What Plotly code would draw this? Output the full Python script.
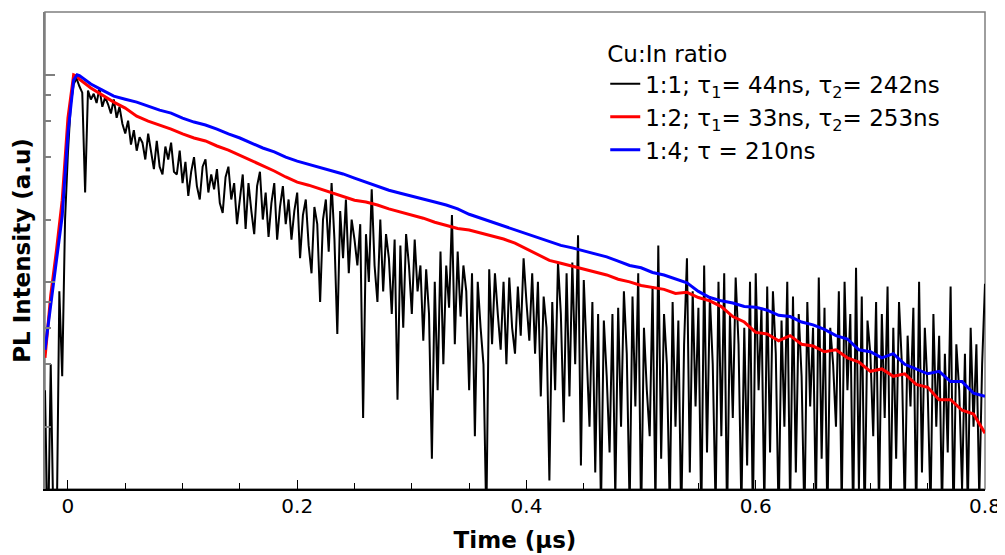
import plotly.graph_objects as go

# ---- data ----
# Cu:In 1:1, noisy trace sampled every 2.5 ns starting at -0.02 us
t0_black = -0.02
dt_black = 0.0025
pl_black = [
    30, 5, 40, 6, 5, 90, 35, 200, 420, 720,
    900, 960, 880, 820, 270, 840, 760, 810, 730, 860,
    700, 780, 720, 650, 760, 620, 700, 580, 520, 600,
    460, 540, 430, 500, 470, 390, 520, 420, 350, 480,
    360, 330, 450, 390, 470, 340, 330, 430, 300, 380,
    260, 340, 400, 290, 250, 360, 390, 270, 330, 280,
    350, 240, 215, 320, 360, 250, 300, 190, 260, 330,
    180, 300, 220, 170, 290, 340, 200, 270, 165, 240,
    300, 160, 230, 290, 190, 250, 160, 220, 270, 130,
    210, 250, 150, 110, 230, 190, 80, 200, 250, 140,
    300, 160, 56, 220, 130, 250, 110, 200, 160, 120,
    190, 22, 170, 100, 280, 120, 80, 200, 90, 170,
    130, 70, 160, 27, 150, 60, 170, 120, 70, 160,
    90, 120, 52, 115, 70, 14, 100, 30, 140, 40,
    120, 75, 210, 50, 140, 68, 120, 90, 30, 110,
    18, 100, 60, 40, 7, 115, 50, 110, 70, 47,
    100, 40, 105, 60, 45, 95, 55, 130, 80, 52,
    110, 45, 100, 28, 85, 60, 11, 80, 30, 124,
    70, 21, 110, 28, 124, 40, 168, 13, 102, 45,
    20, 80, 12, 70, 8, 65, 35, 15, 70, 9,
    75, 20, 90, 45, 8, 85, 25, 110, 7, 60,
    30, 18, 95, 8, 150, 14, 70, 40, 8, 80,
    20, 65, 7, 50, 130, 12, 90, 25, 75, 7,
    120, 15, 85, 40, 8, 100, 18, 110, 7, 70,
    22, 105, 50, 8, 60, 13, 100, 7, 110, 30,
    75, 8, 95, 15, 90, 45, 7, 65, 20, 100,
    8, 85, 12, 70, 35, 7, 80, 25, 60, 8,
    105, 14, 75, 7, 60, 40, 20, 90, 8, 100,
    30, 70, 7, 117, 10, 85, 7, 65, 45, 18,
    80, 8, 70, 22, 95, 7, 60, 14, 80, 40,
    8, 55, 25, 75, 7, 100, 12, 60, 30, 8,
    70, 20, 55, 8, 45, 15, 95, 7, 50, 30,
    10, 45, 8, 60, 20, 50, 9, 40, 98,
]

# Cu:In 1:2 and 1:4 traces
t_curve = [
    -0.02, -0.015, -0.01, -0.005, 0.0, 0.005, 0.008,
    0.01, 0.02, 0.03, 0.04, 0.05, 0.06, 0.07, 0.08, 0.09, 0.10,
    0.11, 0.12, 0.13, 0.14, 0.15, 0.16, 0.17, 0.18, 0.19, 0.20,
    0.21, 0.22, 0.23, 0.24, 0.25, 0.26, 0.27, 0.28, 0.29, 0.30,
    0.31, 0.32, 0.33, 0.34, 0.35, 0.36, 0.37, 0.38, 0.39, 0.40,
    0.41, 0.42, 0.43, 0.44, 0.45, 0.46, 0.47, 0.48, 0.49, 0.50,
    0.51, 0.52, 0.53, 0.54, 0.55, 0.56, 0.57, 0.58, 0.59, 0.60,
    0.61, 0.62, 0.63, 0.64, 0.65, 0.66, 0.67, 0.68, 0.69, 0.70,
    0.71, 0.72, 0.73, 0.74, 0.75, 0.76, 0.77, 0.78, 0.79, 0.80,
]
pl_red = [
    43, 86, 142, 248, 617, 1000, 985,
    953, 863, 798, 738, 690, 631, 597, 572, 547, 518,
    495, 479, 453, 433, 409, 387, 366, 343, 321, 303,
    293, 281, 268, 257, 248, 243, 235, 225, 217, 210,
    203, 194, 188, 181, 178, 172, 166, 161, 154, 144,
    135, 127, 123, 119, 115, 111, 108, 103, 100, 96,
    94, 92, 88, 89, 84, 81, 76, 68, 64, 57,
    56, 52, 55, 50, 49, 46, 47, 43, 41, 37,
    38, 35, 36, 32, 31, 27, 27, 24, 23, 18.6,
]
pl_blue = [
    47, 80, 127, 208, 522, 942, 1000,
    990, 902, 843, 789, 762, 738, 706, 675, 653, 618,
    591, 572, 547, 518, 495, 468, 443, 424, 400, 383,
    370, 358, 343, 332, 317, 303, 290, 277, 268, 260,
    251, 243, 235, 225, 212, 203, 194, 186, 178, 170,
    163, 157, 150, 146, 141, 136, 132, 126, 120, 117,
    111, 108, 103, 99, 90, 84, 81, 79, 76, 75.5,
    73, 69, 68, 64, 62, 59, 55, 53, 47, 46,
    43, 45, 40, 38, 36, 37, 33, 33, 29, 28,
]

names = [
    "1:1; \u03c4<sub>1</sub>= 44ns, \u03c4<sub>2</sub>= 242ns",
    "1:2; \u03c4<sub>1</sub>= 33ns, \u03c4<sub>2</sub>= 253ns",
    "1:4; \u03c4 = 210ns",
]

FONT = "DejaVu Sans"

fig = go.Figure()
fig.add_trace(go.Scatter(
    y=pl_black, x0=t0_black, dx=dt_black, mode="lines",
    line=dict(color="black", width=2), name=names[0],
))
fig.add_trace(go.Scatter(
    x=t_curve, y=pl_red, mode="lines",
    line=dict(color="#ff0000", width=3), name=names[1],
))
fig.add_trace(go.Scatter(
    x=t_curve, y=pl_blue, mode="lines",
    line=dict(color="#0000ff", width=3), name=names[2],
))

# grey frame on top/right
fig.add_shape(type="rect", xref="paper", yref="paper", x0=0, y0=0, x1=1, y1=1,
              line=dict(color="#7f7f7f", width=1.5), layer="below")

# the page body has an 8px margin, so the figure is a bit smaller
fig.update_layout(
    width=997, height=547,
    margin=dict(l=37, r=17, t=4, b=66),
    paper_bgcolor="white", plot_bgcolor="white",
    font=dict(family=FONT, size=20, color="black"),
    legend=dict(
        x=0.596, y=0.957, xanchor="left", yanchor="top",
        bgcolor="rgba(0,0,0,0)",
        font=dict(family=FONT, size=23),
        title=dict(text="Cu:In ratio", font=dict(family=FONT, size=23)),
    ),
)
fig.update_xaxes(
    range=[-0.02, 0.80],
    showgrid=False, zeroline=False,
    showline=True, linecolor="black", linewidth=2,
    ticks="inside", ticklen=9, tickcolor="black", tickwidth=1,
    tickvals=[0, 0.2, 0.4, 0.6, 0.8], ticktext=["0", "0.2", "0.4", "0.6", "0.8"],
    tickfont=dict(size=20), ticklabelstandoff=-2,
    minor=dict(tickmode="linear", tick0=0, dtick=0.05, ticks="inside",
               ticklen=6, tickcolor="black", showgrid=False),
    title=dict(text="<b>Time (\u00b5s)</b>", font=dict(size=23), standoff=15),
)
fig.update_yaxes(
    type="log", range=[1, 3.303],
    showgrid=False, zeroline=False,
    showline=True, linecolor="#7f7f7f", linewidth=1.5,
    ticks="inside", ticklen=10, tickcolor="#7f7f7f", tickwidth=1.5,
    tickvals=[100, 1000], showticklabels=False,
    minor=dict(tickmode="array", tickvals=[20, 40, 60, 80, 200, 400, 600, 800],
               ticks="inside", ticklen=6, tickcolor="#7f7f7f", showgrid=False),
    title=dict(text="<b>PL Intensity (a.u)</b>", font=dict(size=23), standoff=6),
)

fig.write_html("out.html", config={"displayModeBar": False})
